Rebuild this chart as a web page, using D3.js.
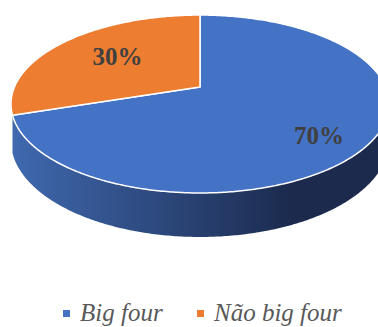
<!DOCTYPE html>
<html>
<head>
<meta charset="utf-8">
<script src="https://cdn.jsdelivr.net/npm/d3@7"></script>
<style>
  html, body { margin: 0; padding: 0; background: #ffffff; }
  svg { display: block; }
  .serif { font-family: "Liberation Serif", "Times New Roman", Times, "DejaVu Serif", serif; }
</style>
</head>
<body>
<div id="chart"></div>
<script>
// ---- data ----
const categories = ["Big four", "Não big four"];
const values = [70, 30];
const labelTexts = ["70%", "30%"];
const colors = ["#4472C4", "#ED7D31"];
const sideColorsLight = ["#3f68ae", "#c96a26"];
const sideColorsDark = ["#1b2a4d", "#7a3c12"];

// ---- layout ----
const W = 378, H = 327;
const CX = 200;          // screen x of pie centre
const D = 5.237;         // camera distance (in radii)
const A = 2351;          // vertical projection factor
const YH = -361.9;       // horizon
const G = 971.6;         // horizontal projection factor
const FH = 186.4;        // extrusion depth factor
// label anchor fractions (u, v) per slice
const labelAnchor = [[0.715, 0.876], [0.59, 0.66]];

function proj(u, v, depth) {
  const t = D - v;
  return [CX + G * u / t, YH + (A + (depth || 0) * FH) / t];
}
function rim(theta, depth) {
  return proj(Math.sin(theta), -Math.cos(theta), depth);
}

const svg = d3.select("#chart").append("svg")
  .attr("width", W).attr("height", H);

const defs = svg.append("defs");
categories.forEach((c, i) => {
  const g = defs.append("linearGradient")
    .attr("id", "side" + i)
    .attr("gradientUnits", "userSpaceOnUse")
    .attr("x1", 15).attr("x2", 295).attr("y1", 0).attr("y2", 0);
  g.append("stop").attr("offset", "0%").attr("stop-color", sideColorsLight[i]);
  g.append("stop").attr("offset", "100%").attr("stop-color", sideColorsDark[i]);
});

const pie = d3.pie().sort(null).value(d => d);
const arcs = pie(values);
const line = d3.line();

// visible side range: v > 1/D  => -cos(theta) > 1/D
const visA = Math.acos(-1 / D);
const visB = 2 * Math.PI - visA;

function sample(a0, a1, depth) {
  const n = Math.max(2, Math.ceil(Math.abs(a1 - a0) / 0.01));
  const pts = [];
  for (let k = 0; k <= n; k++) {
    const th = a0 + (a1 - a0) * k / n;
    pts.push(rim(th, depth));
  }
  return pts;
}

// sides (skip near-edge-on slivers)
const sideG = svg.append("g");
arcs.forEach((a, i) => {
  const s = Math.max(a.startAngle, visA);
  const e = Math.min(a.endAngle, visB);
  if (e - s < 0.2) return;
  const top = sample(s, e, 0);
  const bot = sample(e, s, 1);
  sideG.append("path")
    .attr("d", line(top.concat(bot)) + "Z")
    .attr("fill", "url(#side" + i + ")");
});

// top faces
const topG = svg.append("g");
arcs.forEach((a, i) => {
  const pts = [proj(0, 0, 0)].concat(sample(a.startAngle, a.endAngle, 0));
  topG.append("path")
    .attr("d", line(pts) + "Z")
    .attr("fill", colors[i])
    .attr("stroke", "#ffffff")
    .attr("stroke-width", 1.5)
    .attr("stroke-linejoin", "round");
});

// labels
arcs.forEach((a, i) => {
  const mid = (a.startAngle + a.endAngle) / 2;
  const u = Math.sin(mid) * labelAnchor[i][0];
  const v = -Math.cos(mid) * labelAnchor[i][1];
  const p = proj(u, v, 0);
  svg.append("text")
    .attr("class", "serif")
    .attr("x", p[0]).attr("y", p[1] + 8.5)
    .attr("text-anchor", "middle")
    .attr("font-weight", "bold")
    .attr("font-size", 25)
    .attr("fill", "#404040")
    .text(labelTexts[i]);
});

// legend
const legendX = [63, 197];
const legend = svg.append("g");
categories.forEach((c, i) => {
  legend.append("rect")
    .attr("x", legendX[i]).attr("y", 310)
    .attr("width", 7).attr("height", 7)
    .attr("fill", colors[i]);
  legend.append("text")
    .attr("class", "serif")
    .attr("x", legendX[i] + 17).attr("y", 321)
    .attr("font-style", "italic")
    .attr("font-size", 25)
    .attr("fill", "#595959")
    .text(c);
});
</script>
</body>
</html>
